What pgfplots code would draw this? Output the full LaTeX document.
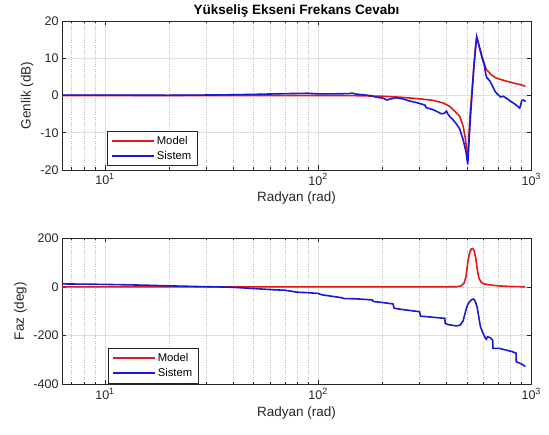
\documentclass[border=0pt]{standalone}
\usepackage{fontspec}
\setmainfont{Liberation Sans}
\usepackage{pgfplots}
\usepackage{pgfplotstable}
\pgfplotsset{compat=1.18}

\definecolor{axgray}{RGB}{38,38,38}
\definecolor{gridmaj}{RGB}{222,222,222}
\definecolor{gridmin}{RGB}{190,190,190}
\definecolor{mred}{RGB}{225,25,25}
\definecolor{mblue}{RGB}{25,25,215}

\newcommand\tp[1]{10\raisebox{0.42em}{\fontsize{9}{9}\selectfont #1}}

% magnitude (dB)
\pgfplotstableread{
w    g
6.3  0
10   0
20   0
50   0
100  0
150  -0.05
200  -0.2
242  -0.45
301  -0.9
347  -1.3
387  -2.0
415  -2.9
435  -4.0
463  -5.6
480  -8.2
492  -11.5
500  -15
505  -17.2
510  -12
518  -5
525  -1
540  8
550  13.5
556  15.5
562  14.8
575  12.5
596  9.5
617  7
650  5.6
686  4.7
750  4
820  3.4
880  3
942  2.5
}\modelmag

\pgfplotstableread{
w    g
6.3  0.1
10   0.1
20   0.05
35   0.15
50   0.3
70   0.5
90   0.6
100  0.45
120  0.45
140  0.5
145  0.65
150  0.4
175  0
190  -0.5
202  -0.7
211  -1.2
220  -0.9
234  -0.6
250  -0.9
270  -1.5
290  -1.9
311  -2.4
318  -2.6
323  -3.3
347  -3.8
365  -4.4
380  -4.9
392  -4.8
401  -4.2
408  -5.0
415  -5.6
430  -6.5
446  -7.6
463  -9
480  -11.8
495  -15
505  -18.5
512  -12
525  -2
540  8
556  15.8
570  13.5
590  10
605  8
612  6
620  4.8
640  4
660  2.5
680  1
700  0.2
720  -0.4
740  -0.2
770  -0.8
800  -1.5
840  -2.3
870  -3
885  -3.4
895  -2.5
905  -1.4
920  -1.2
935  -1.5
942  -1.3
}\sysmag

% phase (deg)
\pgfplotstableread{
w    p
6.3  0
100  0
400  0
450  0.5
470  4
485  15
495  40
505  100
515  140
525  155
532  157
540  150
550  120
560  70
570  35
585  18
600  12
640  8
700  4
800  1.5
942  0
}\modelph

\pgfplotstableread{
w    p
6.3  12
10   10
15   7
20   4
28   1
33   0
40   -2
50   -7
62   -12
70   -14
75   -18
80   -22
90   -24
100  -27
105  -33
115  -38
128  -44
133  -48
150  -49
170  -52
180  -54
182  -60
200  -64
225  -70
228  -88
260  -95
300  -102
303  -120
340  -124
394  -129
396  -150
410  -155
446  -160
465  -157
480  -140
495  -95
505  -72
515  -61
525  -53
538  -50
548  -60
558  -81
568  -120
579  -163
595  -190
607  -204
612  -212
617  -215
625  -205
640  -207
661  -218
663  -252
711  -252
764  -259
820  -266
851  -272
853  -307
883  -312
910  -318
933  -324
942  -326
}\sysph

% legend sample: a plain line in the plot's own style
\pgfplotsset{legend image code/.code={\draw[#1] (0pt,0pt) -- (42pt,0pt);}}

% shared look of both panels
\pgfplotsset{
  every axis/.append style={
    scale only axis, width=469pt,
    xmin=6.3, xmax=1000,
    xtick={10,100,1000},
    xticklabels={\tp{1},\tp{2},\tp{3}},
    minor xtick={7,8,9,20,30,40,50,60,70,80,90,200,300,400,500,600,700,800,900},
    xmajorgrids, xminorgrids, ymajorgrids,
    major grid style={gridmaj, line width=0.5pt},
    minor grid style={gridmin, dotted, line width=0.5pt},
    axis line style={axgray, line width=0.6pt},
    every tick/.style={axgray, line width=0.5pt},
    major tick length=4.5pt, minor tick length=2.5pt,
    tick align=inside,
    ticklabel style={font=\fontsize{12.5}{14}\selectfont, text=axgray},
    label style={font=\fontsize{13.5}{15}\selectfont, text=axgray},
    xlabel={Radyan (rad)},
    legend style={anchor=south west, draw=axgray,
      line width=0.5pt, font=\fontsize{11.25}{13}\selectfont,
      legend cell align=left, inner xsep=4pt, inner ysep=3pt,
      row sep=1.5pt},
  },
  every axis plot/.append style={line width=1.6pt},
}

\begin{document}
\begin{tikzpicture}[x=1pt,y=1pt]
\path[use as bounding box] (0,0) rectangle (549,-435);

\begin{axis}[name=mag, xmode=log, at={(62pt,-21pt)}, anchor=north west,
  height=149pt,
  ymin=-20, ymax=20, ytick={-20,-10,0,10,20},
  yticklabels={-20,-10,0,10,20},
  ylabel={Genlik (dB)},
  legend style={at={(0.096,0.027)}}]
\addplot[mred] table[x=w, y=g] {\modelmag};
\addlegendentry{Model}
\addplot[mblue] table[x=w, y=g] {\sysmag};
\addlegendentry{Sistem}
\end{axis}
\node[anchor=base, yshift=6.5pt, font=\bfseries\fontsize{13.5}{15}\selectfont]
  at (mag.north) {Yükseliş Ekseni Frekans Cevabı};

\begin{axis}[xmode=log, at={(62pt,-238pt)}, anchor=north west, height=146.5pt,
  ymin=-400, ymax=200, ytick={-400,-200,0,200},
  yticklabels={-400,-200,0,200},
  ylabel={Faz (deg)},
  legend style={at={(0.098,0.01)}}]
\addplot[mred] table[x=w, y=p] {\modelph};
\addlegendentry{Model}
\addplot[mblue] table[x=w, y=p] {\sysph};
\addlegendentry{Sistem}
\end{axis}
\end{tikzpicture}
\end{document}
